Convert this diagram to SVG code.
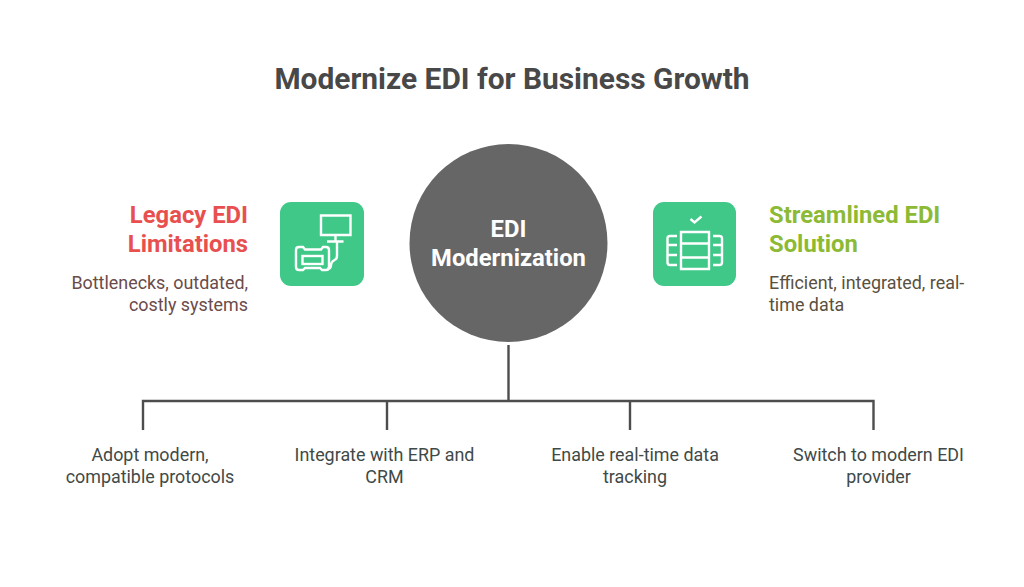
<svg xmlns="http://www.w3.org/2000/svg" width="1024" height="587" viewBox="0 0 1024 587">
<style>
text{font-family:Roboto,"Liberation Sans",sans-serif}
.title{font-size:29.900px;font-weight:700;fill:#484848}
.head{font-size:23.800px;font-weight:700}
.body{font-size:17.900px}
.ic{fill:none;stroke:#fff;stroke-width:2.400}
.conn{fill:none;stroke:#4d4d4d;stroke-width:2.400}
</style>
<rect width="1024" height="587" fill="#fff"/>
<text class="title" x="512" y="89" text-anchor="middle">Modernize EDI for Business Growth</text>
<g id="connectors">
<path class="conn" d="M508.500 345V401M143 430V401H873.500V430M387 401V430M630 401V430"/>
</g>
<g id="center">
<circle cx="508.500" cy="243" r="99" fill="#666"/>
<text x="508.500" y="237" text-anchor="middle" font-size="23.800" font-weight="700" fill="#fff">EDI</text>
<text x="508.500" y="266" text-anchor="middle" font-size="23.800" font-weight="700" fill="#fff">Modernization</text>
</g>
<g id="legacy">
<rect x="280" y="202" width="84" height="84" rx="11" fill="#3fc888"/>
<path class="ic" d="M321 215.500H350.500V235H321ZM335.500 235V241.500M327 241.500H343.500M337 241.500V256Q337 259 334.500 260Q331 262 331 265Q331 269 327 269"/>
<path class="ic" d="M299 247H303L305 249.500H321L323 247H326Q329 247 329 250V267Q329 270 326 270H322L320 268H305L303 270H299Q296 270 296 267V250Q296 247 299 247Z"/>
<rect class="ic" x="302.500" y="256" width="20" height="8"/>
<text class="head" x="248" y="223" text-anchor="end" fill="#e85050">Legacy EDI</text>
<text class="head" x="248" y="252" text-anchor="end" fill="#e85050">Limitations</text>
<text class="body" x="248" y="289" text-anchor="end" fill="#6b4a4a">Bottlenecks, outdated,</text>
<text class="body" x="248" y="311" text-anchor="end" fill="#6b4a4a">costly systems</text>
</g>
<g id="streamlined">
<rect x="653" y="202" width="83" height="84" rx="11" fill="#3fc888"/>
<path class="ic" d="M690.500 219L694.500 222.500L701.500 216.500"/>
<path class="ic" d="M681 232H709V269H681ZM681 243.500H709M681 257.500H709"/>
<path class="ic" d="M677 236H670Q667.500 236 667.500 238.500V262.500Q667.500 265 670 265H677M667.500 245H677M667.500 255H677M713 236H719.500Q722 236 722 238.500V262.500Q722 265 719.500 265H713M713 245H722M713 255H722"/>
<text class="head" x="769" y="223" fill="#8dba35">Streamlined EDI</text>
<text class="head" x="769" y="252" fill="#8dba35">Solution</text>
<text class="body" x="769" y="289" fill="#5a5040">Efficient, integrated, real-</text>
<text class="body" x="769" y="311" fill="#5a5040">time data</text>
</g>
<g id="item1">
<text class="body" x="150" y="461" text-anchor="middle" fill="#3f4a48">Adopt modern,</text>
<text class="body" x="150" y="483" text-anchor="middle" fill="#3f4a48">compatible protocols</text>
</g>
<g id="item2">
<text class="body" x="384.500" y="461" text-anchor="middle" fill="#3f4a48">Integrate with ERP and</text>
<text class="body" x="384.500" y="483" text-anchor="middle" fill="#3f4a48">CRM</text>
</g>
<g id="item3">
<text class="body" x="635" y="461" text-anchor="middle" fill="#3f4a48">Enable real-time data</text>
<text class="body" x="635" y="483" text-anchor="middle" fill="#3f4a48">tracking</text>
</g>
<g id="item4">
<text class="body" x="878.500" y="461" text-anchor="middle" fill="#3f4a48">Switch to modern EDI</text>
<text class="body" x="878.500" y="483" text-anchor="middle" fill="#3f4a48">provider</text>
</g>
</svg>
